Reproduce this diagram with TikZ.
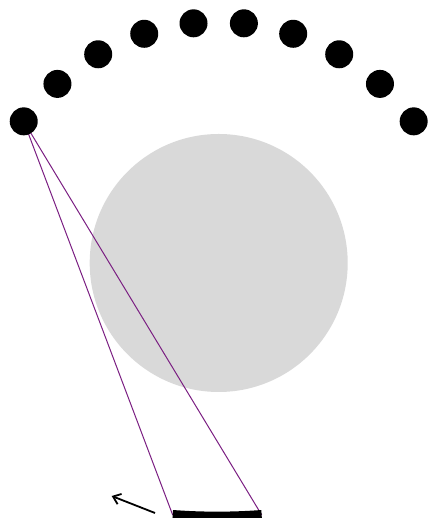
\documentclass[tikz,border=0pt]{standalone}
\usetikzlibrary{arrows.meta,calc}
\definecolor{phantom}{HTML}{D9D9D9}
\definecolor{ray}{HTML}{7B1F82}

\begin{document}
\begin{tikzpicture}[
  x=1pt, y=1pt,
  source/.style={circle, fill=black, inner sep=0pt, minimum size=28pt},
  raypath/.style={draw=ray, line width=1pt},
  detector/.style={draw=black, line width=10pt},
  arrow/.style={-{Straight Barb[length=7pt, width=11pt]}, line width=1.8pt}
]
\useasboundingbox (0,0) rectangle (428,518);
\clip (0,0) rectangle (428,518);
\coordinate (c) at (218.7,255);

% object
\fill[phantom] (c) circle[radius=129];

% ray paths from the last source to the detector ends
\coordinate (s9pos) at ($(c)+(144:241)$);
\coordinate (d1) at (172.7,3);
\coordinate (d2) at (261.7,3);
\draw[raypath] (s9pos) -- (d1);
\draw[raypath] (s9pos) -- (d2);

% source positions
\foreach \i in {0,...,9} {
  \node[source] (s\i) at ($(c)+({36+12*\i}:241)$) {};
}

% detector
\draw[detector] (d1) arc[start angle=-94.25, end angle=-85.75, radius=600];

% rotation direction
\coordinate (rotA) at (155,5);
\coordinate (rotB) at (111.7,22);
\draw[arrow] (rotA) -- (rotB);
\end{tikzpicture}
\end{document}
